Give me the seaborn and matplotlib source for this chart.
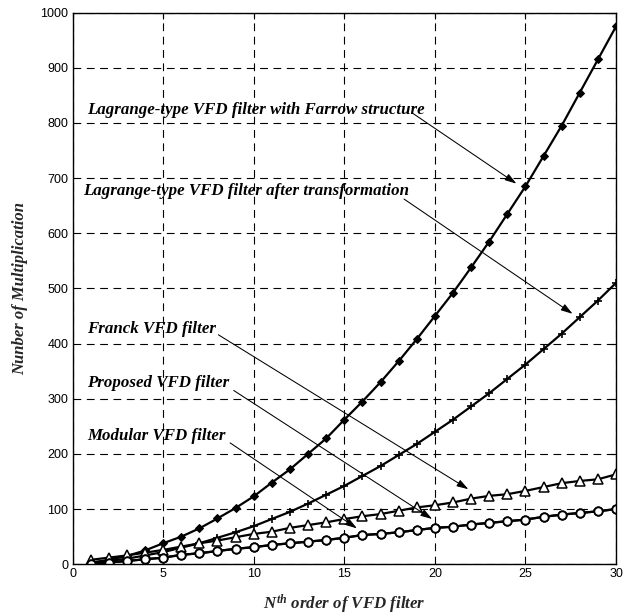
import numpy as np
import pandas as pd
import matplotlib
matplotlib.use("Agg")
import matplotlib.pyplot as plt
import seaborn as sns

# ---- data ----
order_n = list(range(1, 31))
farrow = [3, 8, 15, 25, 38, 50, 65, 83, 102, 123, 148, 172, 200, 228, 262,
          295, 330, 368, 408, 450, 492, 538, 585, 635, 685, 740, 795, 855, 915, 975]
transform = [3, 6, 10, 16, 22, 30, 38, 48, 58, 69, 82, 95, 110, 126, 142,
             160, 178, 198, 218, 240, 262, 286, 310, 336, 362, 390, 418, 448, 478, 510]
franck = [8, 12, 16, 21, 26, 32, 38, 43, 49, 55, 59, 66, 71, 76, 82,
          87, 91, 97, 103, 107, 112, 119, 124, 127, 133, 140, 147, 151, 154, 163]
proposed = [1, 3, 6, 9, 12, 17, 20, 24, 28, 31, 35, 38, 41, 44, 48,
            53, 55, 58, 62, 66, 68, 72, 75, 78, 81, 86, 90, 93, 96, 100]
modular = [1, 3, 6, 9, 12, 17, 20, 24, 28, 31, 35, 38, 41, 44, 48,
           53, 55, 58, 62, 66, 68, 72, 75, 78, 81, 86, 90, 93, 96, 100]

labels = ["Lagrange-type VFD filter with Farrow structure",
          "Lagrange-type VFD filter after transformation",
          "Franck VFD filter",
          "Proposed VFD filter",
          "Modular VFD filter"]
x_ticks = [0, 5, 10, 15, 20, 25, 30]
y_ticks = [0, 100, 200, 300, 400, 500, 600, 700, 800, 900, 1000]

sns.set_style("white")
plt.rcParams["mathtext.fontset"] = "custom"
plt.rcParams["mathtext.it"] = "Liberation Serif:italic:bold"
plt.rcParams["mathtext.rm"] = "Liberation Serif:bold"

fig = plt.figure(figsize=(6.23, 6.15), dpi=100)
ax = fig.add_axes([0.1164, 0.0825, 0.8724, 0.897])

serif = dict(family="Liberation Serif", style="italic", weight="bold")

series = [
    (farrow, dict(marker="D", markersize=3.8, markerfacecolor="black", markeredgecolor="black")),
    (transform, dict(marker="+", markersize=6, markeredgewidth=1.2, markeredgecolor="black")),
    (franck, dict(marker="^", markersize=7, markerfacecolor="white", markeredgecolor="black", markeredgewidth=1.1)),
    (proposed, dict(marker="o", markersize=6, markerfacecolor="white", markeredgecolor="black", markeredgewidth=1.3)),
    (modular, dict(marker="o", markersize=6, markerfacecolor="white", markeredgecolor="black", markeredgewidth=1.3)),
]
for (vals, mk), lab in zip(series, labels):
    sns.lineplot(x=order_n, y=vals, ax=ax, color="black", linewidth=1.6, label=lab, **mk)
ax.get_legend().remove()

ax.set_xlim(0, 30)
ax.set_ylim(0, 1000)
ax.set_xticks(x_ticks)
ax.set_yticks(y_ticks)
ax.set_xticklabels([str(v) for v in x_ticks], family="Liberation Sans", fontsize=9)
ax.set_yticklabels([str(v) for v in y_ticks], family="Liberation Sans", fontsize=9)
ax.tick_params(direction="in", length=4, width=0.8, top=True, right=True, pad=3, colors="black")
for s in ax.spines.values():
    s.set_visible(True)
    s.set_color("black")
    s.set_linewidth(1.0)
ax.grid(True, color="black", linestyle=(0, (7, 5)), linewidth=0.8)

ax.set_ylabel("Nunber of Multiplication", fontsize=12, labelpad=9, **serif)
ax.set_xlabel("$N^{th}$ order of VFD filter", fontsize=12.2, labelpad=9, **serif)

# annotations: text position, arrow start, arrow end (data coords)
ann = [
    (labels[0], (0.8, 824), (18.8, 817), (24.5, 690)),
    (labels[1], (0.6, 677), (18.3, 662), (27.6, 454)),
    (labels[2], (0.8, 427), (8.05, 416), (21.85, 136)),
    (labels[3], (0.8, 328), (8.9, 315), (19.85, 82)),
    (labels[4], (0.8, 232), (8.7, 220), (15.7, 65)),
]
for txt, tpos, a0, a1 in ann:
    ax.text(tpos[0], tpos[1], txt, fontsize=12.2, ha="left", va="center", color="black", **serif)
    ax.annotate("", xy=a1, xytext=a0,
                arrowprops=dict(arrowstyle="-|>,head_length=0.7,head_width=0.22",
                                color="black", lw=0.75, shrinkA=0, shrinkB=0))

fig.savefig("out.png", dpi=100)
